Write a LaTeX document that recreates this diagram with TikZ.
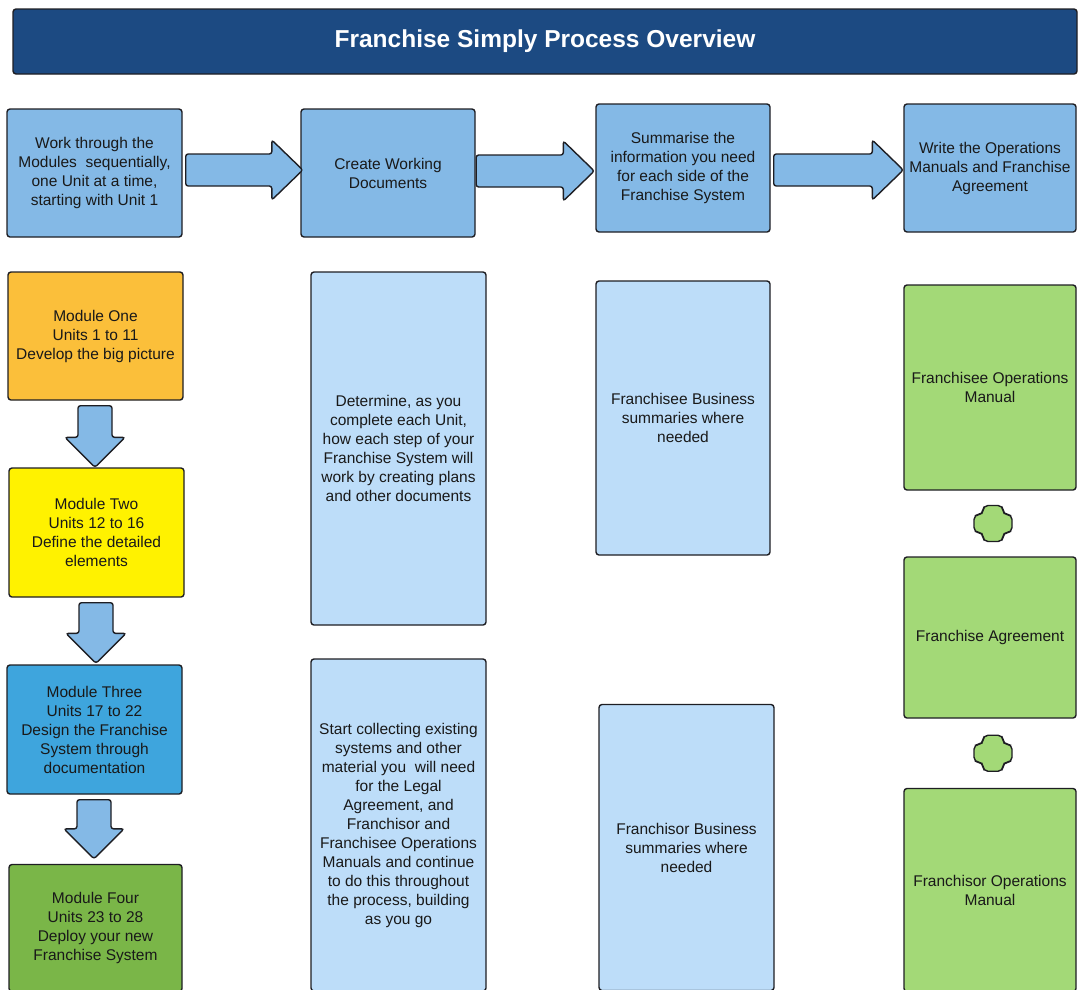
\documentclass[tikz,border=0pt]{standalone}
\usepackage{fontspec}
\setmainfont{Liberation Sans}
\usetikzlibrary{calc}
\definecolor{titleblue}{RGB}{28,74,130}
\definecolor{topblue}{RGB}{132,185,230}
\definecolor{orangemod}{RGB}{251,191,58}
\definecolor{yellowmod}{RGB}{255,242,0}
\definecolor{bluemod}{RGB}{62,165,221}
\definecolor{greenmod}{RGB}{122,182,72}
\definecolor{lightblue}{RGB}{189,221,249}
\definecolor{lightgreen}{RGB}{163,217,119}
\definecolor{edge}{RGB}{30,30,35}
\definecolor{txt}{RGB}{25,25,25}
\begin{document}
\begin{tikzpicture}[x=1pt,y=-1pt,
  box/.style={draw=edge,line width=1.4pt,rounded corners=3pt,align=center,
    font=\fontsize{15.5}{19}\selectfont,text=txt,inner sep=0pt},
  arr/.style={draw=edge,fill=topblue,line width=1.4pt,rounded corners=2.5pt},
  plusst/.style={draw=edge,fill=lightgreen,line width=1.4pt,rounded corners=5pt}]
\useasboundingbox (0,0) rectangle (1078,989);
\clip (0,0) rectangle (1078,989);

% title
\node[draw=edge,line width=1.4pt,rounded corners=3pt,fill=titleblue,text=white,
  minimum width=1064,minimum height=65,inner sep=0pt,
  font=\fontsize{24.5}{28}\selectfont\bfseries] (title) at (545,41.5)
  {Franchise Simply Process Overview};

% top row
\node[box,fill=topblue,minimum width=175,minimum height=128] (A) at (94.5,173)
  {Work through the\\Modules~ sequentially,\\one Unit at a time,\\starting with Unit 1};
\node[box,fill=topblue,minimum width=174,minimum height=128] (B) at (388,173)
  {Create Working\\Documents};
\node[box,fill=topblue,minimum width=174,minimum height=128] (C) at (683,168)
  {Summarise the\\information you need\\for each side of the\\Franchise System};
\node[box,fill=topblue,minimum width=172,minimum height=128] (D) at (990,168)
  {Write the Operations\\Manuals and Franchise\\Agreement};

% modules
\node[box,fill=orangemod,minimum width=175,minimum height=128] (M1) at (95.5,336)
  {Module One\\Units 1 to 11\\Develop the big picture};
\node[box,fill=yellowmod,minimum width=175,minimum height=129] (M2) at (96.5,532.5)
  {Module Two\\Units 12 to 16\\Define the detailed\\elements};
\node[box,fill=bluemod,minimum width=175,minimum height=129] (M3) at (94.5,729.5)
  {Module Three\\Units 17 to 22\\Design the Franchise\\System through\\documentation};
\node[box,fill=greenmod,minimum width=173,minimum height=127] (M4) at (95.5,928)
  {Module Four\\Units 23 to 28\\Deploy your new\\Franchise System};

% middle column
\node[box,fill=lightblue,minimum width=175,minimum height=353] (W1) at (398.5,448.5)
  {Determine, as you\\complete each Unit,\\how each step of your\\Franchise System will\\work by creating plans\\and other documents};
\node[box,fill=lightblue,minimum width=175,minimum height=332] (W2) at (398.5,825)
  {Start collecting existing\\systems and other\\material you~ will need\\for the Legal\\Agreement, and\\Franchisor and\\Franchisee Operations\\Manuals and continue\\to do this throughout\\the process, building\\as you go};

% summaries column
\node[box,fill=lightblue,minimum width=174,minimum height=274] (S1) at (683,418)
  {Franchisee Business\\summaries where\\needed};
\node[box,fill=lightblue,minimum width=175,minimum height=286] (S2) at (686.5,847.5)
  {Franchisor Business\\summaries where\\needed};

% documents column
\node[box,fill=lightgreen,minimum width=172,minimum height=205] (D1) at (990,387.5)
  {Franchisee Operations\\Manual};
\node[box,fill=lightgreen,minimum width=172,minimum height=161] (D2) at (990,637.5)
  {Franchise Agreement};
\node[box,fill=lightgreen,minimum width=172,minimum height=203] (D3) at (990,890)
  {Franchisor Operations\\Manual};

% right arrows
\coordinate (r1s) at ($(A.east|-0,170)+(3,0)$);
\coordinate (r1e) at ($(B.west|-0,170)+(2.5,0)$);
\coordinate (r2s) at ($(B.east|-0,171)+(0.5,0)$);
\coordinate (r2e) at ($(C.west|-0,171)+(-1,0)$);
\coordinate (r3s) at ($(C.east|-0,170)+(3,0)$);
\coordinate (r3e) at ($(D.west|-0,170)+(0,0)$);
\foreach \s/\e in {r1s/r1e,r2s/r2e,r3s/r3e}{
  \draw[arr] let \p1=(\s), \p2=(\e) in
    (\x1,\y1+16pt) -- (\x2-31pt,\y1+16pt) -- (\x2-31pt,\y1+30pt) -- (\x2,\y1)
    -- (\x2-31pt,\y1-30pt) -- (\x2-31pt,\y1-16pt) -- (\x1,\y1-16pt) -- cycle;
}

% down arrows
\foreach \s/\e/\g in {M1/M2/0,M2/M3/1,M3/M4/5}{
  \draw[arr] let \p1=($(\s.south)+(-0.5,5)$), \p2=($(\e.north)+(0,-\g)$) in
    (\x1-17pt,\y1) -- (\x1+17pt,\y1) -- (\x1+17pt,\y2+30pt) -- (\x1+30pt,\y2+30pt)
    -- (\x1,\y2) -- (\x1-30pt,\y2+30pt) -- (\x1-17pt,\y2+30pt) -- cycle;
}

% plus signs
\foreach \s/\e in {D1/D2,D2/D3}{
  \draw[plusst] let \p1=($(\s.south)!0.5!(\e.north)+(3,0)$) in
    (\x1-10pt,\y1+18pt) -- (\x1+10pt,\y1+18pt) -- (\x1+10pt,\y1+9pt) -- (\x1+19pt,\y1+9pt)
    -- (\x1+19pt,\y1-9pt) -- (\x1+10pt,\y1-9pt) -- (\x1+10pt,\y1-18pt) -- (\x1-10pt,\y1-18pt)
    -- (\x1-10pt,\y1-9pt) -- (\x1-19pt,\y1-9pt) -- (\x1-19pt,\y1+9pt) -- (\x1-10pt,\y1+9pt) -- cycle;
}
\end{tikzpicture}
\end{document}
